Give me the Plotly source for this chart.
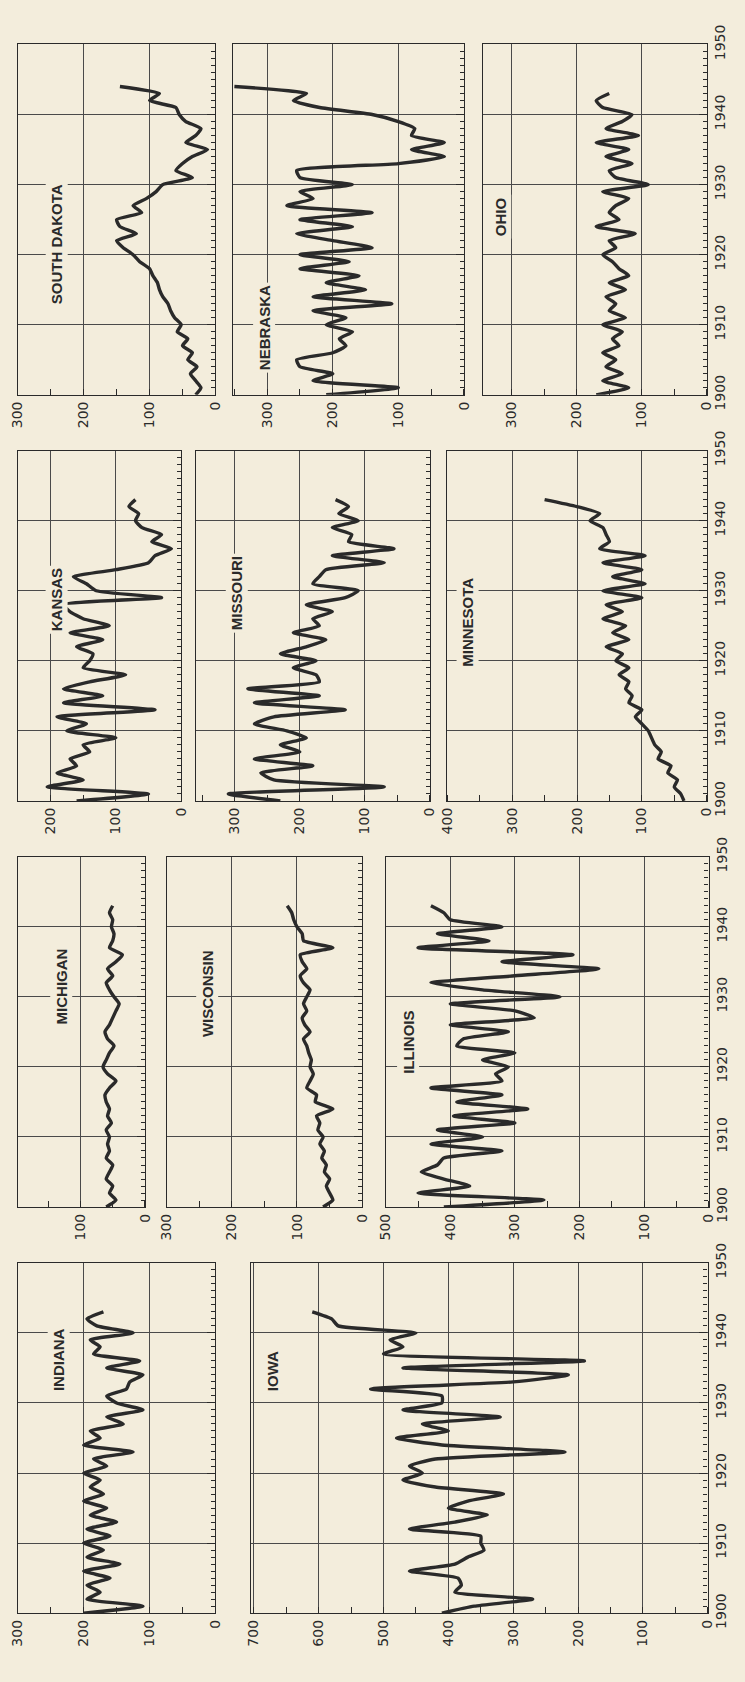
import plotly.graph_objects as go

W, H = 745, 1682

# ---- data: annual values by state (first value is 1900) ----
south_dakota = [30, 22, 30, 38, 28, 42, 35, 50, 42, 58, 52, 62, 68, 72, 80, 85, 88, 95, 100, 115,
                125, 140, 150, 120, 145, 150, 112, 125, 105, 90, 80, 35, 60, 50, 35, 12, 45, 30, 22, 45,
                55, 60, 100, 85, 145]
nebraska = [210, 100, 230, 200, 250, 255, 200, 180, 190, 170, 210, 180, 230, 110, 230, 150, 210, 160, 250, 175,
            250, 140, 200, 255, 170, 250, 140, 270, 230, 250, 170, 250, 255, 100, 30, 80, 30, 80, 75, 100,
            140, 220, 260, 240, 350]
ohio = [170, 120, 160, 130, 155, 140, 160, 135, 145, 130, 160, 125, 150, 140, 155, 125, 150, 120, 135, 145,
        160, 140, 150, 110, 170, 135, 150, 140, 120, 160, 90, 140, 150, 115, 155, 120, 170, 105, 155, 130,
        115, 160, 170, 150]
kansas = [160, 50, 205, 150, 190, 160, 170, 140, 150, 100, 175, 145, 190, 40, 180, 120, 180, 140, 85, 150,
          140, 135, 160, 120, 170, 110, 150, 170, 180, 30, 130, 145, 165, 100, 50, 40, 15, 45, 30, 60,
          70, 65, 80, 70]
missouri = [230, 310, 70, 240, 260, 180, 270, 200, 230, 190, 220, 270, 240, 130, 270, 170, 280, 170, 175, 210,
            175, 230, 190, 160, 210, 170, 180, 150, 190, 130, 110, 180, 170, 160, 70, 150, 55, 125, 120, 150,
            110, 140, 125, 145]
minnesota = [35, 40, 50, 45, 60, 55, 75, 70, 80, 85, 90, 100, 110, 100, 120, 115, 125, 120, 135, 120,
             140, 130, 155, 120, 145, 125, 160, 130, 155, 100, 160, 95, 145, 100, 160, 95, 165, 150, 155, 160,
             180, 165, 200, 250]
michigan = [60, 45, 55, 50, 60, 55, 50, 60, 55, 58, 55, 60, 52, 58, 55, 60, 62, 55, 45, 58,
            65, 60, 55, 48, 58, 62, 55, 50, 45, 40, 48, 55, 60, 50, 58, 45, 35, 55, 50, 48,
            52, 50, 55, 50]
wisconsin = [60, 45, 50, 55, 50, 58, 55, 62, 58, 65, 60, 68, 65, 70, 45, 72, 70, 85, 80, 75,
             80, 78, 82, 85, 90, 80, 88, 92, 85, 90, 85, 80, 90, 95, 85, 92, 95, 45, 90, 92,
             100, 105, 108, 115]
illinois = [410, 255, 450, 370, 410, 445, 420, 410, 320, 430, 350, 420, 300, 395, 280, 390, 320, 430, 320, 330,
            310, 350, 300, 390, 380, 310, 400, 270, 300, 400, 230, 350, 430, 300, 170, 320, 210, 450, 340, 420,
            320, 400, 410, 430]
indiana = [200, 110, 195, 175, 195, 160, 200, 145, 195, 170, 200, 160, 195, 150, 190, 165, 200, 170, 190, 175,
           200, 165, 185, 125, 200, 175, 190, 140, 165, 110, 150, 165, 135, 130, 110, 165, 115, 185, 175, 190,
           125, 180, 195, 170]
iowa = [410, 360, 270, 390, 380, 385, 460, 390, 370, 345, 350, 350, 460, 390, 340, 400, 370, 315, 420, 470,
        440, 460, 420, 220, 410, 480, 400, 440, 320, 470, 410, 410, 520, 300, 215, 470, 190, 500, 470, 490,
        450, 570, 580, 610]

# ---- layout of the sheet (pixel coordinates, top-left origin) ----
BG = "#f3eddc"
INK = "#2a2a2a"
FONT = "DejaVu Sans"
TITLE_FONT = "Liberation Sans"

# vertical bands: (top edge = 1950, bottom edge = 1900)
bands = {"A": (25, 383), "B": (440, 798), "C": (855, 1213), "D": (1270, 1628)}

# name, band, left px, right px, value at left edge, highest labelled tick, title x, title y, data, year labels
panels = [
    ("SOUTH DAKOTA", "A", 10, 212, 300, 300, 38, 165, south_dakota, False),
    ("NEBRASKA", "A", 230, 466, 352, 300, 262, 268, nebraska, False),
    ("OHIO", "A", 485, 714, 345, 300, 515, 178, ohio, True),
    ("KANSAS", "B", 10, 177, 250, 200, 38, 557, kansas, False),
    ("MISSOURI", "B", 192, 431, 360, 300, 222, 586, missouri, False),
    ("MINNESOTA", "B", 449, 714, 400, 400, 470, 615, minnesota, True),
    ("MICHIGAN", "C", 10, 140, 197, 200, 43, 988, michigan, False),
    ("WISCONSIN", "C", 162, 362, 300, 300, 192, 995, wisconsin, False),
    ("ILLINOIS", "C", 386, 716, 500, 500, 409, 1045, illinois, True),
    ("INDIANA", "D", 10, 212, 300, 300, 40, 1404, indiana, False),
    ("IOWA", "D", 248, 715, 705, 700, 271, 1404, iowa, True),
]

fig = go.Figure()
layout = dict(
    width=W, height=H,
    margin=dict(l=0, r=0, t=0, b=0),
    paper_bgcolor=BG, plot_bgcolor=BG,
    showlegend=False,
    annotations=[],
)

for i, (name, band, x0, x1, vmax, lmax, tx, ty, vals, ylab) in enumerate(panels, start=1):
    top, bot = bands[band]
    xa = "xaxis" if i == 1 else f"xaxis{i}"
    ya = "yaxis" if i == 1 else f"yaxis{i}"
    xr = "x" if i == 1 else f"x{i}"
    yr = "y" if i == 1 else f"y{i}"
    years = [1900 + k for k in range(len(vals))]

    # value runs right-to-left, years run bottom-to-top
    fig.add_trace(go.Scatter(
        x=vals, y=years, xaxis=xr, yaxis=yr, mode="lines",
        line=dict(color=INK, width=3.4, shape="spline", smoothing=0.5),
        hoverinfo="skip",
    ))

    layout[xa] = dict(
        domain=[x0 / W, x1 / W], anchor=yr, range=[vmax, 0],
        tickmode="array", tickvals=list(range(0, lmax + 1, 100)),
        ticktext=[str(v) for v in range(0, lmax + 1, 100)],
        tickangle=-90, tickfont=dict(family=FONT, size=14, color=INK),
        ticks="", showgrid=True, gridcolor="#4a4a4a", gridwidth=1,
        showline=True, linecolor=INK, linewidth=1.3, mirror=True,
        zeroline=False, fixedrange=True,
        minor=dict(dtick=50, tick0=0, ticks="inside", ticklen=6, tickcolor=INK,
                   showgrid=False),
    )
    layout[ya] = dict(
        domain=[1 - bot / H, 1 - top / H], anchor=xr, range=[1900, 1950],
        side="right", tickmode="linear", tick0=1900, dtick=10,
        showticklabels=ylab, tickangle=-90,
        tickfont=dict(family=FONT, size=14, color=INK),
        ticks="inside", ticklen=8, tickcolor=INK,
        showgrid=True, gridcolor="#4a4a4a", gridwidth=1,
        showline=True, linecolor=INK, linewidth=1.3, mirror=True,
        zeroline=False, fixedrange=True,
        minor=dict(dtick=1, tick0=1900, ticks="inside", ticklen=4, tickcolor=INK,
                   showgrid=False),
    )

    layout["annotations"].append(dict(
        text=f"<b>{name}</b>", xref="paper", yref="paper", x=tx / W, y=1 - ty / H,
        showarrow=False, textangle=-90, bgcolor=BG, borderpad=2,
        font=dict(family=TITLE_FONT, size=15, color=INK),
    ))

fig.update_layout(**layout)
fig.write_html("out.html")
